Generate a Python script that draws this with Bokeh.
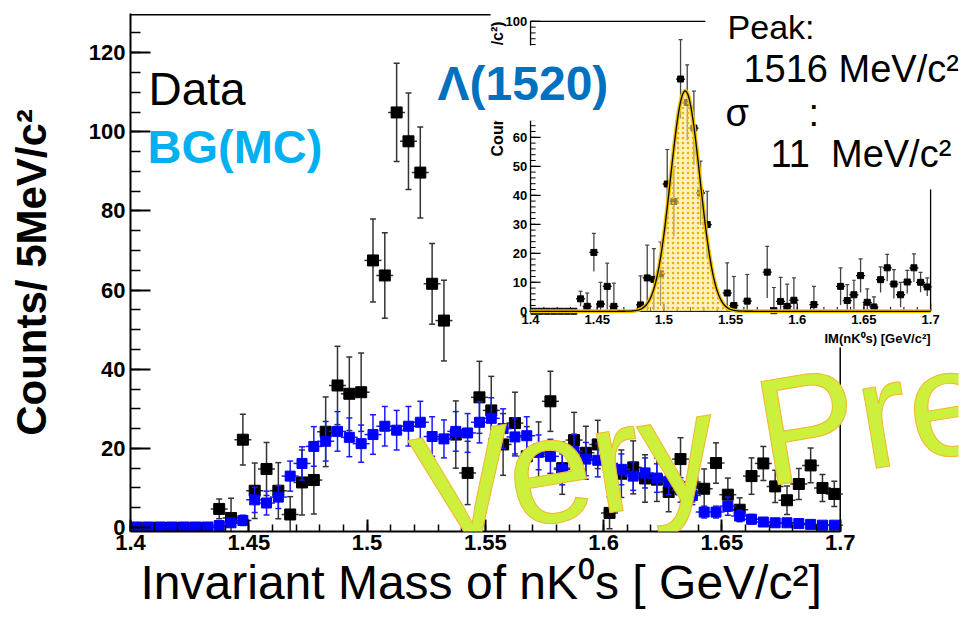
import numpy as np
from bokeh.plotting import figure
from bokeh.models import Range1d, FixedTicker, Label, ColumnDataSource, NumeralTickFormatter, Title
from bokeh.core.properties import value
from bokeh.embed import file_html
from bokeh.resources import INLINE

# ---------------- data ----------------
BIN_LO, BIN_W, NBINS = 1.4, 0.005, 60
mass = [round(BIN_LO + BIN_W * (i + 0.5), 4) for i in range(NBINS)]

data_counts = [0, 0, 0, 0, 0, 0, 0, 4.7, 2.4, 22.2,
               9.3, 14.8, 9.3, 3.3, 11.4, 12.0, 24.2, 35.9, 33.8, 34.2,
               67.5, 63.7, 104.9, 97.6, 89.7, 61.6, 52.3, 23.5, 13.8, 32.9,
               29.6, 21.0, 26.4, 18.0, 19.7, 31.9, 15.0, 22.1, 18.9, 21.0,
               3.7, 13.6, 15.2, 12.4, 12.1, 9.0, 17.3, 11.5, 9.8, 16.3,
               8.3, 4.5, 13.0, 16.2, 10.4, 6.9, 11.0, 15.7, 10.0, 8.5]
data_err = [0, 0, 0, 0, 0, 0, 0, 2.5, 5.0, 6.4,
            7.0, 6.7, 7.1, 4.5, 8.2, 8.6, 8.8, 9.9, 9.3, 9.9,
            10.5, 10.8, 12.4, 12.2, 11.5, 10.2, 10.2, 8.5, 8.0, 9.1,
            8.6, 7.8, 7.8, 7.5, 7.0, 7.6, 6.6, 7.0, 6.7, 6.1,
            4.0, 6.0, 6.7, 6.0, 5.5, 5.0, 5.4, 5.0, 5.0, 5.1,
            4.2, 3.0, 4.6, 4.3, 4.1, 3.6, 3.9, 4.4, 3.4, 3.2]
bg_counts = [0, 0, 0, 0, 0, 0, 0, 0.5, 1.2, 1.8,
             7.0, 6.2, 7.7, 13.0, 16.2, 20.5, 21.8, 24.3, 22.8, 21.2,
             23.5, 25.6, 24.6, 25.6, 26.6, 23.0, 22.4, 24.3, 23.9, 26.6,
             27.6, 25.0, 22.9, 23.2, 19.0, 18.0, 14.7, 19.2, 17.3, 17.0,
             16.2, 14.7, 13.0, 13.8, 12.5, 11.7, 9.5, 8.1, 3.9, 3.9,
             5.4, 2.9, 2.1, 1.4, 1.2, 1.2, 1.0, 0.8, 0.6, 0.6]
bg_err = [0, 0, 0, 0, 0, 0, 0, 0.7, 1.0, 1.3,
          3.2, 3.0, 2.9, 3.8, 4.2, 5.0, 5.0, 5.0, 4.9, 4.7,
          5.0, 5.0, 5.0, 5.0, 5.3, 5.0, 4.8, 5.0, 4.9, 5.2,
          5.2, 5.0, 4.8, 4.8, 4.4, 4.3, 3.9, 4.4, 4.2, 4.2,
          4.1, 3.9, 3.6, 3.8, 3.6, 3.4, 3.1, 2.3, 1.5, 1.5,
          2.3, 1.4, 1.2, 0.9, 0.8, 0.8, 0.7, 0.6, 0.5, 0.5]
# inset: data minus background (None = not visible in inset)
sub_counts = [0, 0, 0, 0, 0, 0, 0, 4.3, 1.7, 20.3,
              2.5, 8.6, 1.7, None, None, None, 2.2, 11.5, 11.0, 12.9,
              43.9, 37.9, 80.1, 72.0, 63.2, 40.8, 29.9, None, None, 6.3,
              2.0, None, 3.5, None, None, 13.5, 0.2, 3.4, 1.7, 3.8,
              None, None, 2.3, None, None, None, 8.6, 3.7, 5.7, 12.3,
              3.1, 1.5, 10.9, 15.0, 9.4, 5.7, 10.1, 15.0, 10.0, 8.4]
sub_err = [0, 0, 0, 0, 0, 0, 0, 2.6, 4.6, 6.6,
           7.5, 8.0, 8.0, 0, 0, 0, 10.0, 11.3, 10.6, 11.0,
           11.9, 12.0, 13.6, 13.0, 12.7, 11.0, 11.5, 0, 0, 10.4,
           10.0, 0, 9.2, 0, 0, 8.9, 8.0, 8.3, 7.7, 7.7,
           0, 0, 6.3, 0, 0, 0, 6.4, 5.5, 5.0, 5.8,
           4.6, 3.5, 4.4, 4.6, 5.0, 4.3, 4.0, 4.8, 3.4, 3.1]

FIT_PEAK, FIT_SIGMA, FIT_AMP = 1.516, 0.011, 76.0

x_ticks = [1.4, 1.45, 1.5, 1.55, 1.6, 1.65, 1.7]
x_minor = [round(1.4 + 0.01 * i, 2) for i in range(31)]
y_ticks = [0, 20, 40, 60, 80, 100, 120]
y_minor = list(range(0, 130, 5))
in_y_ticks = [0, 10, 20, 30, 40, 50, 60, 70, 80, 90, 100]
in_y_labels = [str(v) for v in in_y_ticks]
in_y_minor = list(range(0, 101, 2))
in_x_ticks = [1.4, 1.45, 1.5, 1.55, 1.6, 1.65, 1.7]
in_x_labels = ["1.4", "1.45", "1.5", "1.55", "1.6", "1.65", "1.7"]
in_x_minor = [round(1.4 + 0.01 * i, 2) for i in range(31)]

FONT = "Liberation Sans"

# ---------------- figure ----------------
p = figure(frame_width=828, frame_height=518,
           x_range=Range1d(1.4, 1.75), y_range=Range1d(-1, 129.9),
           min_border_left=130, min_border_right=3, min_border_top=13, min_border_bottom=89,
           output_backend="svg", toolbar_location=None,
           background_fill_color="white", border_fill_color="white")
p.outline_line_color = None
p.grid.visible = False

for ax in (p.xaxis[0], p.yaxis[0]):
    ax.axis_line_width = 2
    ax.major_tick_line_width = 2
    ax.minor_tick_line_width = 1.5
    ax.major_tick_out = 0
    ax.minor_tick_out = 0
    ax.major_label_text_font = FONT
    ax.major_label_text_font_style = "bold"
    ax.major_label_text_font_size = "22px"
    ax.major_label_text_color = "black"

p.xaxis.ticker = FixedTicker(ticks=x_ticks, minor_ticks=x_minor)
p.xaxis.bounds = (1.4, 1.7)
p.xaxis.major_tick_in = 12
p.xaxis.minor_tick_in = 7
p.xaxis.major_label_standoff = 3
p.xaxis.formatter = NumeralTickFormatter(format="0.[00]")

p.yaxis.ticker = FixedTicker(ticks=y_ticks, minor_ticks=y_minor)
p.yaxis.major_tick_in = 20
p.yaxis.minor_tick_in = 10
p.yaxis.major_label_standoff = 5
p.yaxis.axis_label = "Counts/ 5MeV/c\u00b2"
p.yaxis.axis_label_text_font = FONT
p.yaxis.axis_label_text_font_style = "bold"
p.yaxis.axis_label_text_font_size = "42px"
p.yaxis.axis_label_text_color = "black"
p.yaxis.axis_label_standoff = 31

p.add_layout(Title(text="Invariant Mass of nK\u2070s [ GeV/c\u00b2]", align="left", offset=10,
                   standoff=2, text_font=FONT, text_font_style="normal",
                   text_font_size="48px", text_color="black"), "below")

# main frame lines (top and right)
p.segment(x0=[1.4, 1.7], y0=[129.6, -1], x1=[1.7, 1.7], y1=[129.6, 129.6],
          line_color="black", line_width=1.5)

# ---------------- main data ----------------
d = np.array(data_counts); de = np.array(data_err)
b = np.array(bg_counts); be = np.array(bg_err)
src_d = ColumnDataSource(dict(x=mass, y=d, lo=d - de, hi=d + de))
src_b = ColumnDataSource(dict(x=mass, y=b, lo=b - be, hi=b + be))

for src, col, barcol, msize in ((src_d, "black", "#333333", 11), (src_b, "#0000ff", "#1a1aff", 10)):
    p.segment(x0="x", y0="lo", x1="x", y1="hi", source=src, line_color=barcol, line_width=1.5)
    p.scatter(x="x", y="hi", source=src, marker="dash", size=6, line_color=barcol, line_width=1.5)
    p.scatter(x="x", y="lo", source=src, marker="dash", size=6, line_color=barcol, line_width=1.5)
    p.scatter(x="x", y="y", source=src, marker="dash", size=17, line_color=barcol, line_width=1.5)
    p.scatter(x="x", y="y", source=src, marker="square", size=msize,
              fill_color=col, line_color=col)

# ---------------- inset ----------------
IN_X0, IN_X1 = 1.5691, 1.7382
IN_Y0, IN_Y1 = 54.65, 127.92
IN_BG_LEFT, IN_BG_BOTTOM = 1.5522, 45.5

p.quad(left=[IN_BG_LEFT], right=[1.75], bottom=[IN_BG_BOTTOM], top=[131],
       fill_color="white", line_color=None)

sub = p.subplot(x_source=Range1d(1.4, 1.7), y_source=Range1d(0, 100),
                x_target=Range1d(IN_X0, IN_X1), y_target=Range1d(IN_Y0, IN_Y1))

# inset frame
sub.segment(x0=[1.4, 1.4, 1.4, 1.7], y0=[0, 0, 100, 0], x1=[1.4, 1.7, 1.7, 1.7], y1=[100, 0, 100, 100],
            line_color="black", line_width=1.3)
# inset ticks
TK_MAJ_X, TK_MIN_X = 0.0075, 0.0038   # left-axis tick lengths (inset x units)
TK_MAJ_Y, TK_MIN_Y = 2.8, 1.5          # bottom-axis tick lengths (inset y units)
sub.segment(x0=[1.4] * len(in_y_ticks), y0=in_y_ticks, x1=[1.4 + TK_MAJ_X] * len(in_y_ticks), y1=in_y_ticks,
            line_color="black", line_width=1.2)
sub.segment(x0=[1.4] * len(in_y_minor), y0=in_y_minor, x1=[1.4 + TK_MIN_X] * len(in_y_minor), y1=in_y_minor,
            line_color="black", line_width=1)
sub.segment(x0=in_x_ticks, y0=[0] * len(in_x_ticks), x1=in_x_ticks, y1=[TK_MAJ_Y] * len(in_x_ticks),
            line_color="black", line_width=1.2)
sub.segment(x0=in_x_minor, y0=[0] * len(in_x_minor), x1=in_x_minor, y1=[TK_MIN_Y] * len(in_x_minor),
            line_color="black", line_width=1)
sub.text(x=[1.3975] * len(in_y_ticks), y=in_y_ticks, text=in_y_labels,
         text_align="right", text_baseline="middle", text_font=value(FONT),
         text_font_style="bold", text_font_size="13px", text_color="black")
sub.text(x=in_x_ticks, y=[-1.3] * len(in_x_ticks), text=in_x_labels,
         text_align="center", text_baseline="top", text_font=value(FONT),
         text_font_style="bold", text_font_size="13px", text_color="black")
sub.text(x=[1.7], y=[-9.3], text=["IM(nK\u2070s) [GeV/c\u00b2]"],
         text_align="right", text_baseline="middle", text_font=value(FONT),
         text_font_style="bold", text_font_size="13px", text_color="black")
sub.text(x=[1.375], y=[100], text=["Counts/(5 MeV/c\u00b2)"], angle=np.pi / 2,
         text_align="right", text_baseline="middle", text_font=value(FONT),
         text_font_style="bold", text_font_size="16px", text_color="black")

s = np.array([np.nan if v is None else v for v in sub_counts])
se = np.array(sub_err)
src_s = ColumnDataSource(dict(x=mass, y=s, lo=np.clip(s - se, 0, None), hi=s + se))
sub.segment(x0="x", y0="lo", x1="x", y1="hi", source=src_s, line_color="#444444", line_width=1.3)
sub.scatter(x="x", y="hi", source=src_s, marker="dash", size=4, line_color="#444444", line_width=1.2)
sub.scatter(x="x", y="y", source=src_s, marker="dash", size=9, line_color="black", line_width=1.3)
sub.scatter(x="x", y="y", source=src_s, marker="square", size=6, fill_color="black", line_color="black")

fx = np.linspace(1.4, 1.7, 601)
fy = FIT_AMP * np.exp(-0.5 * ((fx - FIT_PEAK) / FIT_SIGMA) ** 2)
sub.varea(x=fx, y1=np.zeros_like(fx), y2=fy, fill_color="#ffe680", fill_alpha=0.55,
          hatch_pattern="dot", hatch_color="#f0b000", hatch_scale=5, hatch_weight=1.5)
sub.line(x=fx, y=fy, line_color="#f2c200", line_width=4)
sub.line(x=fx, y=fy, line_color="black", line_width=1.3)

# cover boxes (white) for the Λ label and the fit results
p.quad(left=[1.5268], right=[1.605], bottom=[102.8], top=[121.8], fill_color="white", line_color=None)
p.quad(left=[1.643], right=[1.75], bottom=[85.4], top=[131], fill_color="white", line_color=None)

# ---------------- texts (anchored at the vertical middle of each line) ----------------
def lab(x, y, text, size, color="black", bold=False, align="left", angle=0.0, **kw):
    p.add_layout(Label(x=x, y=y, text=text, text_font=FONT, text_font_size=size,
                       text_font_style="bold" if bold else "normal", text_color=color,
                       text_align=align, text_baseline="middle", angle=angle, **kw))

lab(1.4076, 110.9, "Data", "46px")
lab(1.4072, 96.3, "BG(MC)", "47px", color="#00b0f0", bold=True)
lab(1.5298, 112.1, "\u039b(1520)", "48px", color="#0070c0", bold=True)
lab(1.6524, 126.6, "Peak:", "34px")
lab(1.6591, 115.8, "1516 MeV/c\u00b2", "38px")
lab(1.6515, 104.7, "\u03c3", "38px")
lab(1.6866, 104.7, ":", "38px")
lab(1.6705, 94.3, "11\u00a0\u00a0MeV/c\u00b2", "38px")

lab(1.5205, 9.1, "Very Pre", "152px", color="#ccf03c", angle=np.radians(9.5),
    text_outline_color="#f2b630")

open("out.html", "w").write(file_html(p, INLINE))
